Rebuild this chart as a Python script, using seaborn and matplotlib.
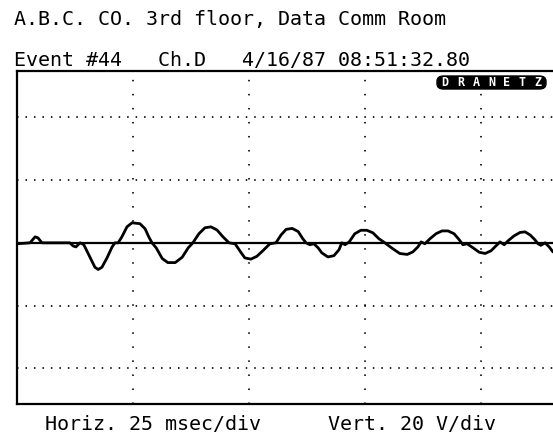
import matplotlib
matplotlib.use("Agg")
import matplotlib.pyplot as plt
from matplotlib.patches import FancyBboxPatch
import seaborn as sns
import pandas as pd

# Captured disturbance waveform, channel D (time in ms, amplitude in V)
time_ms = [0.0, 2.8, 3.9, 4.5, 5.4, 11.4, 12.1, 12.7, 13.6, 14.4, 15.7, 16.8,
           17.5, 18.3, 19.4, 20.5, 21.1, 21.8, 22.6, 23.7, 24.8, 26.5, 27.6,
           28.4, 29.1, 30.0, 31.3, 32.5, 34.1, 35.6, 36.9, 37.9, 39.2, 40.5,
           41.8, 43.1, 44.4, 45.7, 47.0, 48.1, 49.1, 50.4, 51.7, 53.0, 54.5,
           55.8, 56.9, 58.0, 59.3, 60.6, 61.6, 62.3, 63.1, 64.0, 64.9, 65.7,
           67.0, 68.3, 69.4, 70.0, 70.7, 71.6, 72.8, 74.1, 75.4, 76.7, 78.0,
           79.3, 80.0, 81.0, 82.5, 84.1, 85.3, 86.4, 87.1, 87.9, 89.0, 90.3,
           91.6, 92.9, 94.2, 95.3, 96.1, 97.0, 98.3, 99.6, 100.9, 102.2,
           103.2, 104.1, 105.0, 105.8, 107.1, 108.4, 109.5, 110.6, 111.6,
           112.3, 112.9, 113.8, 114.7, 115.5]
volts = [-0.3, 0.0, 1.9, 1.6, 0.0, 0.0, -1.0, -1.3, 0.0, -0.6, -4.5, -7.8,
         -8.5, -7.8, -4.8, -1.3, 0.0, 0.0, 1.9, 5.1, 6.4, 6.1, 4.5,
         1.9, 0.0, -1.6, -5.0, -6.3, -6.3, -4.6, -1.6, 0.0, 2.9, 4.8,
         5.1, 4.1, 1.9, 0.0, -0.3, -2.7, -4.8, -5.2, -4.3, -2.5, -0.3,
         0.0, 2.5, 4.3, 4.6, 3.6, 1.3, 0.0, -0.6, -0.3, -1.6, -3.2,
         -4.5, -4.1, -2.2, 0.0, -0.6, 0.3, 2.9, 4.0, 4.0, 3.2, 1.3,
         0.0, -0.8, -1.9, -3.4, -3.7, -2.9, -1.3, 0.3, -0.3, 1.3, 2.9,
         3.8, 3.8, 2.9, 1.0, -0.6, -0.3, -1.6, -3.0, -3.4, -2.5,
         -1.0, 0.3, -0.6, 0.6, 2.2, 3.3, 3.5, 2.5, 1.0,
         -0.3, -0.8, 0.0, -1.3, -2.9]

vgrid_ms = [25, 50, 75, 100]
hgrid_v = [-40, -20, 20, 40]

title_line = "A.B.C. CO. 3rd floor, Data Comm Room"
header_line = "Event #44   Ch.D   4/16/87 08:51:32.80"
horiz_label = "Horiz. 25 msec/div"
vert_label = "Vert. 20 V/div"
maker = "DRANETZ"

sns.set_theme(style="white")
plt.rcParams["lines.scale_dashes"] = False
plt.rcParams["font.family"] = ["DejaVu Sans Mono"]

W, H = 553, 433
fig = plt.figure(figsize=(W / 100, H / 100), dpi=100)

# plot frame in pixel coordinates: left 17, top 71, bottom 404, right edge runs off the page
left, top, bottom, right = 17, 71, 404, 597
ax = fig.add_axes([left / W, 1 - bottom / H, (right - left) / W, (bottom - top) / H])
ax.set_xlim(0, 125)
ax.set_ylim(-51.4, 54.8)

for t in vgrid_ms:
    ax.axvline(t, color="black", lw=1.2, linestyle=(0, (1.1, 9.0)), zorder=1)
for v in hgrid_v:
    ax.axhline(v, color="black", lw=1.2, linestyle=(0, (1.1, 5.0)), zorder=1)
ax.axhline(0, color="black", lw=1.6, zorder=2)

df = pd.DataFrame({"t": time_ms, "v": volts})
sns.lineplot(data=df, x="t", y="v", ax=ax, color="black", lw=2.0,
             estimator=None, sort=False, zorder=3)

ax.set_xticks([])
ax.set_yticks([])
ax.set_xlabel("")
ax.set_ylabel("")
for side in ["left", "top", "bottom"]:
    ax.spines[side].set_color("black")
    ax.spines[side].set_linewidth(1.6)
ax.spines["right"].set_visible(False)

fs = 14.4
fig.text(14 / W, 1 - 25 / H, title_line, fontsize=fs, color="black", va="baseline", ha="left")
fig.text(14 / W, 1 - 66 / H, header_line, fontsize=fs, color="black", va="baseline", ha="left")
fig.text(45 / W, 1 - 430 / H, horiz_label, fontsize=fs, color="black", va="baseline", ha="left")
fig.text(328 / W, 1 - 430 / H, vert_label, fontsize=fs, color="black", va="baseline", ha="left")

# maker badge: white letters on a black rounded plate
bx0, by0, bx1, by1 = 437, 76, 546, 89
badge = FancyBboxPatch((bx0 / W, 1 - by1 / H), (bx1 - bx0) / W, (by1 - by0) / H,
                       boxstyle="round,pad=0,rounding_size=0.012",
                       transform=fig.transFigure, fc="black", ec="black", lw=1)
fig.add_artist(badge)
step = (bx1 - bx0 - 16) / (len(maker) - 1)
for i, ch in enumerate(maker):
    fig.text((bx0 + 8 + i * step) / W, 1 - (by0 + by1) / 2 / H, ch, fontsize=8.5,
             fontweight="bold", color="white", ha="center", va="center")

fig.savefig("out.png", dpi=100)
